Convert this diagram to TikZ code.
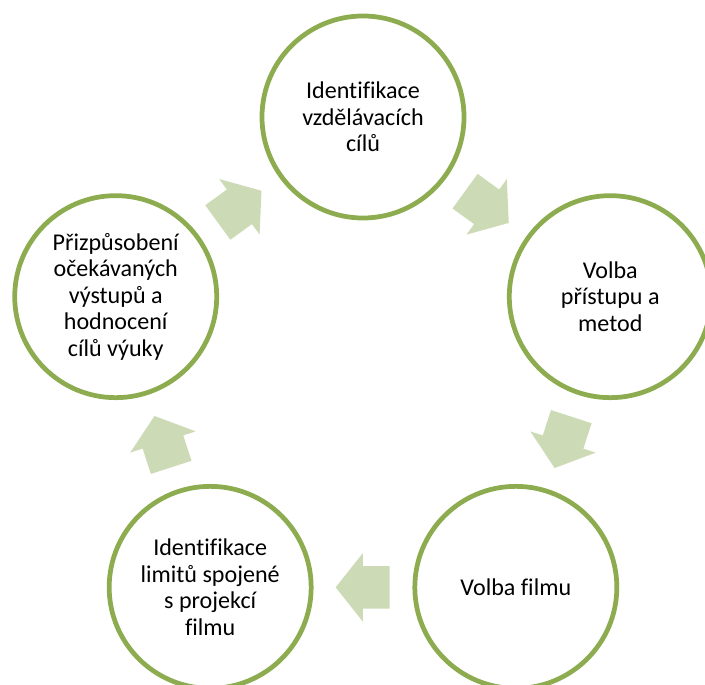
\documentclass[tikz,border=0pt]{standalone}
\usepackage{fontspec}
\setmainfont{Carlito}[Ligatures=NoCommon]
\usetikzlibrary{shapes.arrows,calc}
\definecolor{olivova}{RGB}{141,172,80}
\definecolor{svetleolivova}{RGB}{204,218,181}
\tikzset{
  krok/.style={circle,draw=olivova,line width=2.7pt,fill=white,minimum size=4.04cm,
    inner sep=0pt,align=center,font=\fontsize{13.7}{15.1}\selectfont},
  sipka/.style={single arrow,fill=svetleolivova,minimum height=1.08cm,minimum width=1.36cm,
    single arrow head extend=0.26cm,single arrow tip angle=103,
    inner xsep=0pt,inner ysep=0.42cm,text height=0pt,text depth=0pt,anchor=tail}
}
\begin{document}
\begin{tikzpicture}
        \useasboundingbox(-7.26,-6.14)rectangle(6.84,7.54);
        \def\R{5.2}
        \node[krok](cile)at(90:\R){Identifikace\\vzdělávacích\\cílů};
        \node[krok](pristup)at(18:\R){Volba\\přístupu a\\metod};
        \node[krok](film)at(-54:\R){Volba filmu};
        \node[krok](limity)at(-126:\R){Identifikace\\limitů spojené\\s projekcí\\filmu};
        \node[krok](hodnoceni)at(162:\R){Přizpůsobení\\očekávaných\\výstupů a\\hodnocení\\cílů výuky};
        \foreach \a/\b/\u in {cile/pristup/-36,pristup/film/-108,film/limity/180,limity/hodnoceni/108,hodnoceni/cile/36}{
          \path(\a)--(\b)coordinate[midway](\a-\b);
          \node[sipka,rotate=\u](s-\a)at($(\a-\b)!0.54cm!(\a)$){};
        }
\end{tikzpicture}
\end{document}
